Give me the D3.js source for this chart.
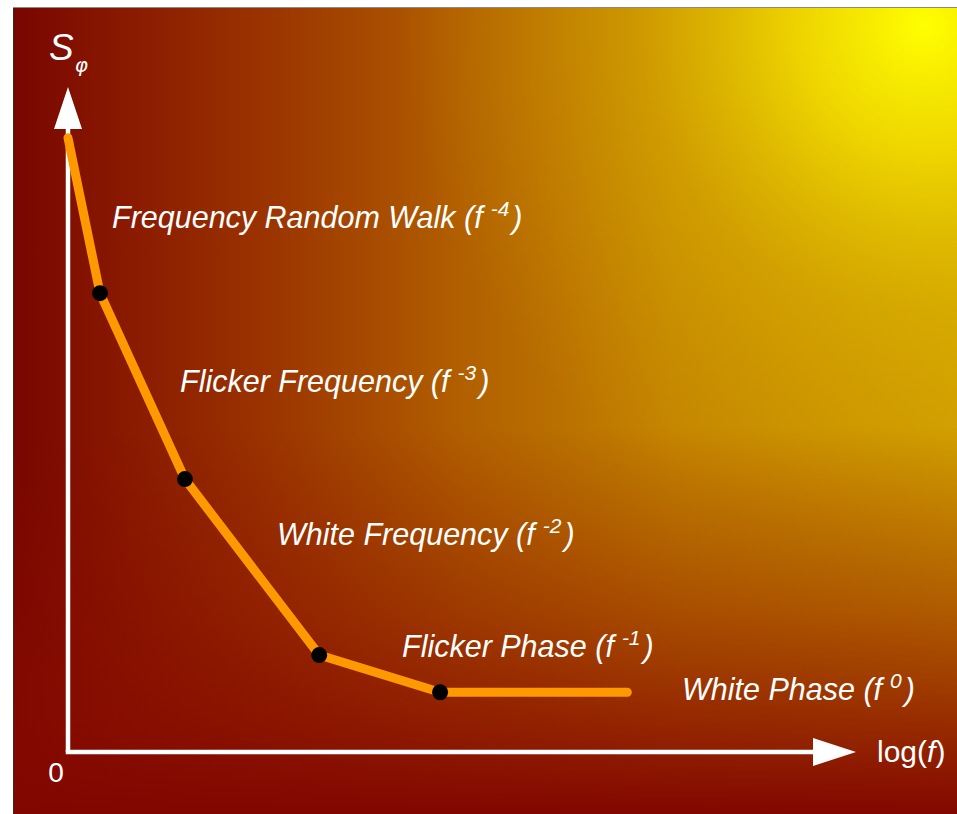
<!DOCTYPE html>
<html>
<head>
<meta charset="utf-8">
<script src="https://cdn.jsdelivr.net/npm/d3@7"></script>
<style>
  html, body { margin: 0; padding: 0; background: #ffffff; }
  svg { display: block; }
  text { font-family: "Liberation Sans", Arial, sans-serif; fill: #ffffff; }
</style>
</head>
<body>
<svg id="chart" width="957" height="814"></svg>
<script>
// Noise regimes of a phase power spectral density, in arbitrary log units
const breakX = [0, 0.405, 1.48, 3.18, 4.71, 7.08];
const breakY = [9.25, 6.91, 4.11, 1.46, 0.90, 0.90];
const dotIndex = [1, 2, 3, 4];

const regimeNames = ["Frequency Random Walk", "Flicker Frequency", "White Frequency", "Flicker Phase", "White Phase"];
const regimeExponents = ["-4", "-3", "-2", "-1", "0"];
const labelX = [0.557, 1.418, 2.646, 4.228, 7.772];
const labelY = [7.89, 5.42, 3.12, 1.43, 0.78];

const svg = d3.select("#chart");
const W = 957, H = 814;
const px = 13, py = 8;

// Background panel: warm horizontal ramp, darkened toward the bottom,
// with a yellow glow in the upper right corner
const defs = svg.append("defs");
function addStops(g, stops) {
  stops.forEach(([o, c, a]) => g.append("stop")
    .attr("offset", o).attr("stop-color", c).attr("stop-opacity", a === undefined ? 1 : a));
}
addStops(defs.append("linearGradient").attr("id", "ramp")
  .attr("x1", 0).attr("y1", 0).attr("x2", 1).attr("y2", 0), [
  [0, "#780600"], [0.1, "#871600"], [0.28, "#9c3600"], [0.48, "#b26000"],
  [0.7, "#c48400"], [1, "#d09c00"]
]);
addStops(defs.append("linearGradient").attr("id", "shade")
  .attr("x1", 0).attr("y1", 0).attr("x2", 0).attr("y2", 1), [
  [0, "#820800", 0], [0.52, "#820800", 0], [0.75, "#860a00", 0.45],
  [0.88, "#860a00", 0.75], [1, "#820600", 1]
]);
addStops(defs.append("radialGradient").attr("id", "glow")
  .attr("gradientUnits", "userSpaceOnUse")
  .attr("cx", 925).attr("cy", 25).attr("r", 520), [
  [0, "#ffff00", 1], [0.25, "#f6e400", 0.8], [0.55, "#e0c000", 0.4], [1, "#d0a000", 0]
]);

["ramp", "glow", "shade"].forEach(id => {
  svg.append("rect")
    .attr("x", px).attr("y", py).attr("width", W - px).attr("height", H - py)
    .attr("fill", `url(#${id})`);
});
svg.append("line").attr("x1", px).attr("x2", W).attr("y1", 7.5).attr("y2", 7.5)
  .attr("stroke", "#8a8a8a").attr("stroke-width", 1);
svg.append("line").attr("x1", 13.5).attr("x2", 13.5).attr("y1", py).attr("y2", H)
  .attr("stroke", "#3a2a20").attr("stroke-width", 1);

// Scales
const x = d3.scaleLinear().domain([0, 10]).range([68, 858]);
const y = d3.scaleLinear().domain([0, 10]).range([752, 88]);

// Axes with arrowheads
const axisColor = "#ffffff";
svg.append("line")
  .attr("x1", x(0)).attr("y1", y(0)).attr("x2", x(0)).attr("y2", y(9.4))
  .attr("stroke", axisColor).attr("stroke-width", 4.5);
svg.append("line")
  .attr("x1", x(0) - 2.25).attr("y1", y(0)).attr("x2", x(9.5)).attr("y2", y(0))
  .attr("stroke", axisColor).attr("stroke-width", 4.5);

const yTip = [x(0), y(10)];
svg.append("path")
  .attr("d", `M${yTip[0]},${yTip[1] - 1} L${yTip[0] - 14},${yTip[1] + 41} L${yTip[0] + 14},${yTip[1] + 41} Z`)
  .attr("fill", axisColor);
const xTip = [x(10) - 2, y(0)];
svg.append("path")
  .attr("d", `M${xTip[0]},${xTip[1]} L${xTip[0] - 43},${xTip[1] - 14} L${xTip[0] - 43},${xTip[1] + 14} Z`)
  .attr("fill", axisColor);

// Axis titles
const sLabel = svg.append("text").attr("x", 49).attr("y", 60)
  .style("font-size", "37px").style("font-style", "italic");
sLabel.append("tspan").text("S");
sLabel.append("tspan").attr("dx", 1).attr("dy", 12)
  .style("font-size", "20px").style("font-family", "'DejaVu Sans', sans-serif").text("φ");

svg.append("text").attr("x", 56).attr("y", 782).attr("text-anchor", "middle")
  .style("font-size", "28px").text("0");

const logLabel = svg.append("text").attr("x", 877).attr("y", 762)
  .style("font-size", "30px");
logLabel.append("tspan").text("log(");
logLabel.append("tspan").style("font-style", "italic").text("f");
logLabel.append("tspan").text(")");

// Spectrum curve
const pts = breakX.map((d, i) => [d, breakY[i]]);
svg.append("path")
  .datum(pts)
  .attr("d", d3.line().x(d => x(d[0])).y(d => y(d[1])))
  .attr("fill", "none")
  .attr("stroke", "#ff9900")
  .attr("stroke-width", 9)
  .attr("stroke-linecap", "round")
  .attr("stroke-linejoin", "round");

svg.selectAll("circle.brk")
  .data(dotIndex.map(i => pts[i]))
  .join("circle")
  .attr("class", "brk")
  .attr("cx", d => x(d[0])).attr("cy", d => y(d[1]))
  .attr("r", 8)
  .attr("fill", "#000000");

// Regime labels
regimeNames.forEach((name, i) => {
  const t = svg.append("text")
    .attr("x", x(labelX[i])).attr("y", y(labelY[i]))
    .style("font-size", "30.5px").style("font-style", "italic");
  t.append("tspan").text(name + " (f");
  t.append("tspan").attr("dx", 8).attr("dy", -12)
    .style("font-size", "21px").text(regimeExponents[i]);
  t.append("tspan").attr("dx", 3).attr("dy", 12).text(")");
});
</script>
</body>
</html>
